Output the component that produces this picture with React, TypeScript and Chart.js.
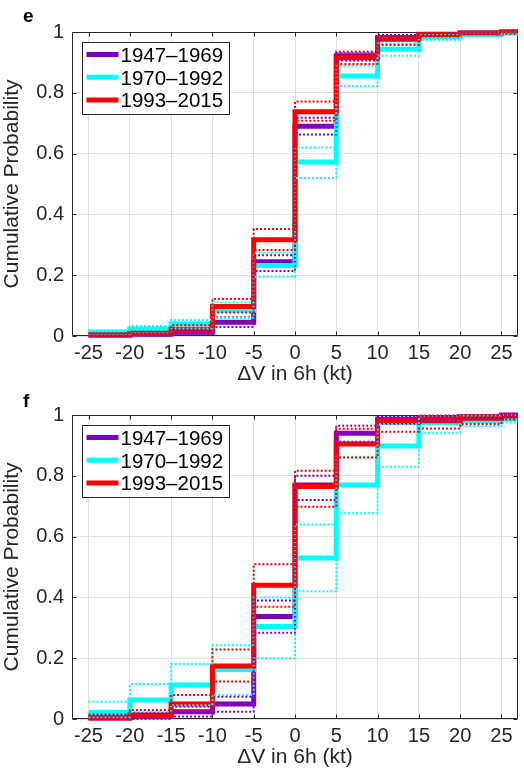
import React, { useEffect, useRef } from "react";
import { Chart, registerables } from "chart.js";

Chart.register(...registerables);

// ---------- shared axes ----------
const xTicks = [-25, -20, -15, -10, -5, 0, 5, 10, 15, 20, 25];
const yTicks = [0, 0.2, 0.4, 0.6, 0.8, 1];
const X_MIN = -27;
const X_MAX = 27;
const periods = ["1947–1969", "1970–1992", "1993–2015"];
const colors = ["#8000c0", "#00ffff", "#ff0000"];
const xTitle = "ΔV in 6h (kt)";
const yTitle = "Cumulative Probability";

// ---------- panel e (values at xTicks, held until next tick) ----------
const eP1Mean = [0.003, 0.006, 0.012, 0.045, 0.244, 0.69, 0.922, 0.982, 0.993, 0.997, 1.0];
const eP1Upper = [0.008, 0.012, 0.02, 0.062, 0.266, 0.718, 0.935, 0.99, 0.997, 1.0, 1.0];
const eP1Lower = [0.0, 0.002, 0.005, 0.03, 0.214, 0.663, 0.906, 0.975, 0.99, 0.995, 1.0];
const eP2Mean = [0.012, 0.023, 0.04, 0.085, 0.232, 0.572, 0.855, 0.943, 0.985, 0.993, 0.997];
const eP2Upper = [0.018, 0.033, 0.053, 0.11, 0.274, 0.62, 0.889, 0.963, 0.993, 0.998, 1.0];
const eP2Lower = [0.005, 0.012, 0.025, 0.06, 0.195, 0.52, 0.822, 0.922, 0.974, 0.988, 0.995];
const eP3Mean = [0.003, 0.008, 0.022, 0.097, 0.317, 0.738, 0.915, 0.976, 0.992, 0.997, 1.0];
const eP3Upper = [0.008, 0.015, 0.035, 0.122, 0.352, 0.771, 0.93, 0.985, 0.996, 1.0, 1.0];
const eP3Lower = [0.0, 0.003, 0.01, 0.077, 0.283, 0.708, 0.895, 0.957, 0.985, 0.993, 1.0];

// ---------- panel f ----------
const fP1Mean = [0.003, 0.008, 0.024, 0.049, 0.337, 0.77, 0.94, 0.986, 0.99, 0.995, 1.0];
const fP1Upper = [0.01, 0.02, 0.04, 0.073, 0.39, 0.8, 0.965, 0.995, 0.998, 1.0, 1.0];
const fP1Lower = [0.0, 0.0, 0.008, 0.024, 0.284, 0.72, 0.912, 0.97, 0.98, 0.99, 0.995];
const fP2Mean = [0.021, 0.0625, 0.112, 0.163, 0.304, 0.53, 0.77, 0.898, 0.975, 0.98, 0.987];
const fP2Upper = [0.057, 0.115, 0.181, 0.243, 0.4, 0.64, 0.863, 0.97, 0.995, 0.998, 1.0];
const fP2Lower = [0.005, 0.025, 0.045, 0.079, 0.2, 0.42, 0.677, 0.83, 0.94, 0.964, 0.975];
const fP3Mean = [0.003, 0.013, 0.049, 0.174, 0.44, 0.765, 0.905, 0.978, 0.981, 0.989, 0.997];
const fP3Upper = [0.015, 0.03, 0.079, 0.229, 0.509, 0.817, 0.955, 0.99, 0.995, 1.0, 1.0];
const fP3Lower = [0.0, 0.005, 0.03, 0.123, 0.369, 0.698, 0.86, 0.945, 0.956, 0.97, 0.985];

const FONT = "'Liberation Sans', Arial, Helvetica, sans-serif";
const AXIS_COLOR = "#262626";

type Series = { mean: number[]; upper: number[]; lower: number[] };

function stepPoints(vals: number[]) {
  const pts = xTicks.map((x, i) => ({ x, y: vals[i] }));
  pts.push({ x: X_MAX, y: vals[vals.length - 1] });
  return pts;
}

function buildDatasets(series: Series[]) {
  const ds: any[] = [];
  series.forEach((s, k) => {
    ds.push({
      label: periods[k],
      data: stepPoints(s.mean),
      borderColor: colors[k],
      backgroundColor: colors[k],
      borderWidth: 5,
      stepped: "before",
      pointRadius: 0,
      fill: false,
      clip: false,
      borderCapStyle: "butt",
      borderJoinStyle: "miter",
      order: 20 - k,
    });
  });
  series.forEach((s, k) => {
    [s.upper, s.lower].forEach((v) => {
      ds.push({
        label: "",
        data: stepPoints(v),
        borderColor: colors[k],
        borderWidth: 2,
        borderDash: [2, 2],
        stepped: "before",
        pointRadius: 0,
        fill: false,
        clip: false,
        borderCapStyle: "butt",
        order: 5 - k,
      });
    });
  });
  return ds;
}

type PanelProps = {
  letter: string;
  top: number;
  height: number;
  padTop: number;
  xAxisH: number;
  letterBaseline: number;
  series: Series[];
};

function Panel({ letter, top, height, padTop, xAxisH, letterBaseline, series }: PanelProps) {
  const ref = useRef<HTMLCanvasElement | null>(null);
  useEffect(() => {
    if (!ref.current) return;
    const decor = {
      id: "decor",
      beforeDatasetsDraw(chart: any) {
        const { ctx, chartArea } = chart;
        const { left, right, top: t, bottom } = chartArea;
        const xs = chart.scales.x;
        const ys = chart.scales.y;
        ctx.save();
        ctx.strokeStyle = AXIS_COLOR;
        ctx.lineWidth = 1;
        const L = Math.round(left) + 0.5;
        const R = Math.round(right) - 0.5;
        const T = Math.round(t) + 0.5;
        const B = Math.round(bottom) - 0.5;
        ctx.beginPath();
        ctx.rect(L, T, R - L, B - T);
        xTicks.forEach((v) => {
          const px = Math.round(xs.getPixelForValue(v)) + 0.5;
          ctx.moveTo(px, B);
          ctx.lineTo(px, B - 4);
          ctx.moveTo(px, T);
          ctx.lineTo(px, T + 4);
        });
        yTicks.forEach((v) => {
          const py = Math.round(ys.getPixelForValue(v)) + 0.5;
          ctx.moveTo(L, py);
          ctx.lineTo(L + 4, py);
          ctx.moveTo(R, py);
          ctx.lineTo(R - 4, py);
        });
        ctx.stroke();
        ctx.restore();
      },
      afterDraw(chart: any) {
        const { ctx, chartArea } = chart;
        const { left, right, top: t, bottom } = chartArea;
        ctx.save();
        // panel letter
        ctx.fillStyle = "#000";
        ctx.font = `bold 19px ${FONT}`;
        ctx.textAlign = "left";
        ctx.textBaseline = "alphabetic";
        ctx.fillText(letter, 23, letterBaseline);
        // axis titles
        ctx.fillStyle = AXIS_COLOR;
        ctx.font = `21px ${FONT}`;
        ctx.textAlign = "center";
        ctx.fillText(xTitle, (left + right) / 2, bottom + 44);
        ctx.save();
        ctx.translate(18, (t + bottom) / 2);
        ctx.rotate(-Math.PI / 2);
        ctx.fillText(yTitle, 0, 0);
        ctx.restore();
        // legend
        const bx = Math.round(left + 10) + 0.5;
        const by = Math.round(t + 9.5) + 0.5;
        const bw = 147;
        const bh = 72;
        ctx.fillStyle = "#fff";
        ctx.fillRect(bx, by, bw, bh);
        ctx.strokeStyle = AXIS_COLOR;
        ctx.lineWidth = 1;
        ctx.strokeRect(bx, by, bw, bh);
        const thick = chart.data.datasets.filter((d: any) => d.label);
        thick.forEach((d: any, i: number) => {
          const ly = by + 12 + i * 22.7;
          ctx.strokeStyle = d.borderColor;
          ctx.lineWidth = 5;
          ctx.lineCap = "butt";
          ctx.beginPath();
          ctx.moveTo(bx + 4, ly);
          ctx.lineTo(bx + 36, ly);
          ctx.stroke();
          ctx.fillStyle = "#000";
          ctx.font = `20.5px ${FONT}`;
          ctx.textAlign = "left";
          ctx.textBaseline = "alphabetic";
          ctx.fillText(d.label, bx + 38, ly + 7.3);
        });
        ctx.restore();
      },
    };

    const chart = new Chart(ref.current, {
      type: "line",
      data: { datasets: buildDatasets(series) },
      options: {
        animation: false,
        responsive: false,
        events: [],
        layout: { padding: { top: padTop, right: 6, left: 0, bottom: 0 } },
        plugins: { legend: { display: false }, tooltip: { enabled: false } },
        scales: {
          x: {
            type: "linear",
            min: X_MIN,
            max: X_MAX,
            afterBuildTicks: (s: any) => {
              s.ticks = xTicks.map((v) => ({ value: v }));
            },
            afterFit: (s: any) => {
              s.height = xAxisH;
            },
            grid: { color: "#e0e0e0", drawTicks: false },
            border: { display: false },
            ticks: {
              color: AXIS_COLOR,
              font: { family: FONT, size: 20 },
              padding: 5,
              maxRotation: 0,
              autoSkip: false,
              callback: (v: any) => String(v),
            },
          },
          y: {
            type: "linear",
            min: 0,
            max: 1,
            afterBuildTicks: (s: any) => {
              s.ticks = yTicks.map((v) => ({ value: v }));
            },
            afterFit: (s: any) => {
              s.width = 72;
            },
            grid: { color: "#e0e0e0", drawTicks: false },
            border: { display: false },
            ticks: {
              color: AXIS_COLOR,
              font: { family: FONT, size: 20 },
              padding: 8,
              autoSkip: false,
              callback: (v: any) => String(v),
            },
          },
        },
      },
      plugins: [decor],
    } as any);
    return () => chart.destroy();
  }, []);
  return (
    <canvas
      ref={ref}
      width={524}
      height={height}
      style={{ position: "absolute", left: 0, top, width: 524, height }}
    />
  );
}

export default function App() {
  const eSeries: Series[] = [
    { mean: eP1Mean, upper: eP1Upper, lower: eP1Lower },
    { mean: eP2Mean, upper: eP2Upper, lower: eP2Lower },
    { mean: eP3Mean, upper: eP3Upper, lower: eP3Lower },
  ];
  const fSeries: Series[] = [
    { mean: fP1Mean, upper: fP1Upper, lower: fP1Lower },
    { mean: fP2Mean, upper: fP2Upper, lower: fP2Lower },
    { mean: fP3Mean, upper: fP3Upper, lower: fP3Lower },
  ];
  return (
    <div style={{ position: "absolute", left: 0, top: 0, width: 524, height: 782, background: "#fff" }}>
      <Panel letter="e" top={0} height={391} padTop={32} xAxisH={55} letterBaseline={22} series={eSeries} />
      <Panel letter="f" top={391} height={391} padTop={24} xAxisH={63} letterBaseline={16} series={fSeries} />
    </div>
  );
}
